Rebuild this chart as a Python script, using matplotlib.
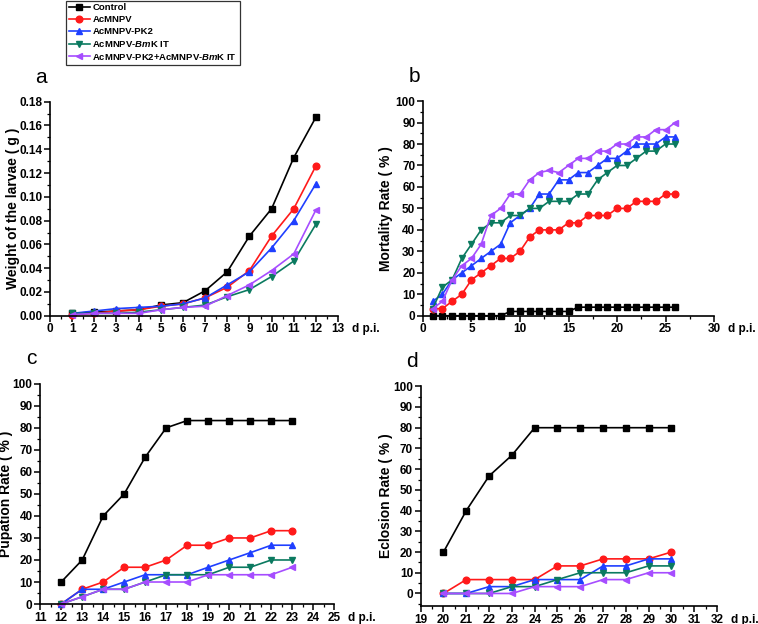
#!/usr/bin/env python3
import matplotlib
matplotlib.use("Agg")
import matplotlib.pyplot as plt
from matplotlib.ticker import MultipleLocator

plt.rcParams["font.family"] = ["Liberation Sans", "DejaVu Sans"]
plt.rcParams["font.weight"] = "bold"
plt.rcParams["mathtext.fontset"] = "custom"
plt.rcParams["mathtext.it"] = "Liberation Sans:italic:bold"
plt.rcParams["mathtext.rm"] = "Liberation Sans:bold"

# series names
labels = ["Control", "AcMNPV", "AcMNPV-PK2", r"AcMNPV-$\mathit{Bm}$K IT",
          r"AcMNPV-PK2+AcMNPV-$\mathit{Bm}$K IT"]

# panel a: larval weight (g)
days_a = list(range(1, 13))
weight_control = [0.002, 0.003, 0.004, 0.005, 0.009, 0.011, 0.021, 0.037, 0.067, 0.090, 0.133, 0.167]
weight_acmnpv = [0.001, 0.002, 0.004, 0.005, 0.008, 0.010, 0.015, 0.024, 0.038, 0.067, 0.090, 0.126]
weight_pk2 = [0.002, 0.004, 0.006, 0.007, 0.008, 0.010, 0.015, 0.026, 0.037, 0.057, 0.080, 0.111]
weight_bmkit = [0.002, 0.002, 0.002, 0.003, 0.005, 0.007, 0.009, 0.016, 0.022, 0.033, 0.046, 0.077]
weight_combo = [0.001, 0.002, 0.002, 0.002, 0.005, 0.007, 0.008, 0.017, 0.026, 0.038, 0.052, 0.089]

# panel b: mortality (%)
days_b = list(range(1, 27))
mort_control = [0, 0, 0, 0, 0, 0, 0, 0, 2, 2, 2, 2, 2, 2, 2, 4, 4, 4, 4, 4, 4, 4, 4, 4, 4, 4]
mort_acmnpv = [3.3, 3.3, 6.7, 10, 16.7, 20, 23.3, 26.7, 26.7, 30, 36.7, 40, 40, 40, 43.3, 43.3,
               46.7, 46.7, 46.7, 50, 50, 53.3, 53.3, 53.3, 56.7, 56.7]
mort_pk2 = [6.7, 10, 16.7, 20, 23.3, 26.7, 30, 33.3, 43.3, 46.7, 50, 56.7, 56.7, 63.3, 63.3, 66.7,
            66.7, 70, 73.3, 73.3, 76.7, 80, 80, 80, 83.3, 83.3]
mort_bmkit = [3.3, 13.3, 16.7, 26.7, 33.3, 40, 43.3, 43.3, 46.7, 46.7, 50, 50, 53.3, 53.3, 53.3, 56.7,
              56.7, 63.3, 66.7, 70, 70, 73.3, 76.7, 76.7, 80, 80]
mort_combo = [3.3, 6.7, 16.7, 23.3, 26.7, 33.3, 46.7, 50, 56.7, 56.7, 63.3, 66.7, 67.7, 66.7, 70, 73.3,
              73.3, 76.7, 76.7, 80, 80, 83.3, 83.3, 86.7, 86.7, 90]

# panel c: pupation (%)
days_c = list(range(12, 24))
pup_control = [10, 20, 40, 50, 66.7, 80, 83.3, 83.3, 83.3, 83.3, 83.3, 83.3]
pup_acmnpv = [0, 6.7, 10, 16.7, 16.7, 20, 26.7, 26.7, 30, 30, 33.3, 33.3]
pup_pk2 = [0, 6.7, 6.7, 10, 13.3, 13.3, 13.3, 16.7, 20, 23.3, 26.7, 26.7]
pup_bmkit = [0, 3.3, 6.7, 6.7, 10, 13.3, 13.3, 13.3, 16.7, 16.7, 20, 20]
pup_combo = [0, 3.3, 6.7, 6.7, 10, 10, 10, 13.3, 13.3, 13.3, 13.3, 16.7]

# panel d: eclosion (%)
days_d = list(range(20, 31))
ecl_control = [20, 40, 56.7, 66.7, 80, 80, 80, 80, 80, 80, 80]
ecl_acmnpv = [0, 6.7, 6.7, 6.7, 6.7, 13.3, 13.3, 16.7, 16.7, 16.7, 20]
ecl_pk2 = [0, 0, 3.3, 3.3, 6.7, 6.7, 6.7, 13.3, 13.3, 16.7, 16.7]
ecl_bmkit = [0, 0, 0, 3.3, 3.3, 6.7, 10, 10, 10, 13.3, 13.3]
ecl_combo = [0, 0, 0, 0, 3.3, 3.3, 3.3, 6.7, 6.7, 10, 10]

colors = ["#000000", "#ff1a1a", "#1f3fff", "#0b7a60", "#a64dff"]
markers = ["s", "o", "^", "v", "<"]

fig = plt.figure(figsize=(7.58, 6.24), dpi=100)

panels = [
    ([0.066, 0.494, 0.380, 0.343], "a", days_a,
     [weight_control, weight_acmnpv, weight_pk2, weight_bmkit, weight_combo],
     "Weight of the larvae ( g )", (0, 13), (0, 0.18), 1, 0.5, 0.02, 0.01, -0.104),
    ([0.558, 0.494, 0.384, 0.344], "b", days_b,
     [mort_control, mort_acmnpv, mort_pk2, mort_bmkit, mort_combo],
     "Mortality Rate ( % )", (0, 30), (0, 100), 5, 2.5, 10, 5, -0.103),
    ([0.053, 0.032, 0.388, 0.353], "c", days_c,
     [pup_control, pup_acmnpv, pup_pk2, pup_bmkit, pup_combo],
     "Pupation Rate ( % )", (11, 25), (0, 100), 1, 0.5, 10, 5, -0.092),
    ([0.555, 0.029, 0.391, 0.352], "d", days_d,
     [ecl_control, ecl_acmnpv, ecl_pk2, ecl_bmkit, ecl_combo],
     "Eclosion Rate ( % )", (19, 32), (-6, 100), 1, 0.5, 10, 5, -0.095),
]

handles = []
for rect, tag, days, series, ylabel, xlim, ylim, xmaj, xmin, ymaj, ymin, label_x in panels:
    ax = fig.add_axes(rect)
    for i, values in enumerate(series):
        (line,) = ax.plot(days, values, color=colors[i], marker=markers[i], markersize=4.8,
                          linewidth=1.2, clip_on=False)
        if tag == "a":
            handles.append(line)
    ax.set_xlim(*xlim)
    ax.set_ylim(*ylim)
    ax.xaxis.set_major_locator(MultipleLocator(xmaj))
    ax.xaxis.set_minor_locator(MultipleLocator(xmin))
    ax.yaxis.set_major_locator(MultipleLocator(ymaj))
    ax.yaxis.set_minor_locator(MultipleLocator(ymin))
    if tag == "a":
        ax.yaxis.set_major_formatter(plt.FuncFormatter(lambda v, p: f"{v:.2f}"))
    if tag == "d":
        ax.set_yticks(range(0, 101, 10))
    for side in ("top", "right"):
        ax.spines[side].set_visible(False)
    for side in ("left", "bottom"):
        ax.spines[side].set_linewidth(1.2)
    ax.tick_params(which="major", direction="out", length=4, width=1.1, labelsize=8.5, pad=1.5)
    ax.tick_params(which="minor", direction="out", length=2, width=0.9)
    for lab in ax.get_xticklabels() + ax.get_yticklabels():
        lab.set_fontweight("bold")
    ax.set_ylabel(ylabel, fontsize=10, fontweight="bold")
    ax.yaxis.set_label_coords(label_x, 0.5)
    ax.annotate("d p.i.", xy=(1, 0), xycoords="axes fraction", xytext=(10, -5.5),
                textcoords="offset points", ha="left", va="top",
                fontsize=8.5, fontweight="bold")
    ax.text(-0.03, 1.07, tag, transform=ax.transAxes, ha="center", va="bottom",
            fontsize=15, fontweight="normal")

leg = fig.legend(handles, labels, loc="upper left", bbox_to_anchor=(0.087, 0.999),
                 frameon=True, fancybox=False, edgecolor="black",
                 handlelength=2.2, handletextpad=0.3, labelspacing=0.3,
                 borderpad=0.3, borderaxespad=0, prop={"weight": "bold", "size": 6.8})
leg.get_frame().set_linewidth(0.9)

fig.savefig("out.png", dpi=100)
plt.close(fig)
